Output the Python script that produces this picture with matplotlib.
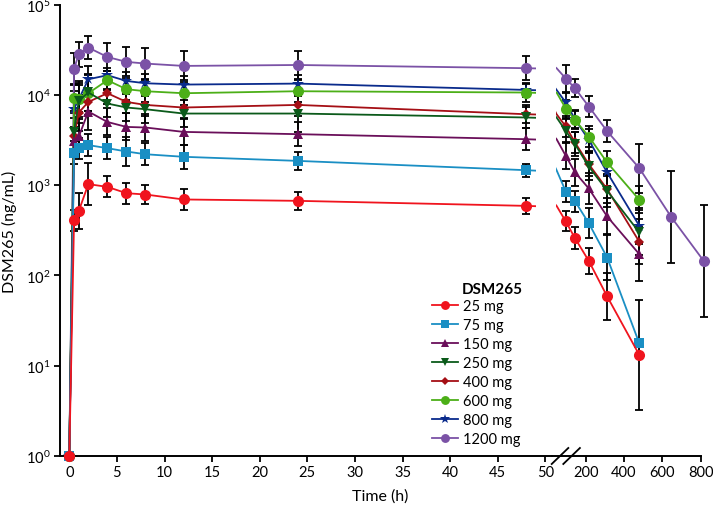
import numpy as np
import matplotlib
matplotlib.use('Agg')
import matplotlib.pyplot as plt
from matplotlib.patches import Rectangle
from matplotlib.lines import Line2D
from matplotlib.ticker import FixedLocator, NullLocator, LogFormatterSciNotation

plt.rcParams['font.family'] = ['Lato', 'DejaVu Sans']
plt.rcParams['mathtext.fontset'] = 'custom'
plt.rcParams['mathtext.rm'] = 'Lato'
plt.rcParams['font.size'] = 11

# ---------------- data ----------------
times = [0, 0.5, 1, 2, 4, 6, 8, 12, 24, 48, 96, 144, 216, 312, 480, 648, 816]

doses = ["25 mg", "75 mg", "150 mg", "250 mg", "400 mg", "600 mg", "800 mg", "1200 mg"]

mean_25 = [1, 410, 520, 1030, 960, 817, 790, 696, 672, 591, 397, 259, 145, 58.5, 13.1]
mean_75 = [1, 2310, 2560, 2790, 2580, 2370, 2210, 2070, 1865, 1470, 853, 666, 380, 158, 17.6]
mean_150 = [1, 3060, 3480, 6580, 5040, 4440, 4375, 3910, 3690, 3245, 2120, 1390, 922, 451, 172]
mean_250 = [1, 3950, 8700, 10700, 8070, 7290, 6980, 6250, 6250, 5650, 4010, 2855, 1616, 867, 300]
mean_400 = [1, 3480, 6410, 8410, 10500, 8410, 7790, 7290, 7790, 6140, 4490, 2990, 1714, 905, 236]
mean_600 = [1, 9310, 9100, 10500, 14630, 11640, 11050, 10500, 11050, 10690, 7100, 5310, 3475, 1790, 689]
mean_800 = [1, 7100, 9000, 15000, 16630, 14370, 13540, 13100, 13430, 11420, 8300, 5400, 3190, 1387, 355]
mean_1200 = [1, 19700, 28400, 33700, 26500, 23400, 22400, 21100, 21600, 19900, 15280, 11930, 7480, 3980, 1548, 440, 145]

# error bars: +/- log10 deviation (geometric SD)
lsd_25 = [0, 0.115, 0.20, 0.235, 0.116, 0.116, 0.107, 0.118, 0.10, 0.089, 0.111, 0.125, 0.144, 0.26, 0.606]
lsd_75 = [0, 0.13, 0.12, 0.12, 0.12, 0.16, 0.12, 0.133, 0.104, 0.074, 0.111, 0.115, 0.166, 0.25, 0]
lsd_150 = [0, 0.15, 0.15, 0.2, 0.15, 0.15, 0.15, 0.15, 0.13, 0.12, 0.15, 0.15, 0.17, 0.2, 0.3]
lsd_250 = [0, 0.2, 0.2, 0.2, 0.15, 0.15, 0.15, 0.15, 0.2, 0.12, 0.13, 0.13, 0.15, 0.18, 0.25]
lsd_400 = [0, 0.2, 0.2, 0.15, 0.12, 0.12, 0.12, 0.13, 0.12, 0.1, 0.12, 0.12, 0.13, 0.15, 0.25]
lsd_600 = [0, 0.15, 0.15, 0.2, 0.1, 0.12, 0.12, 0.13, 0.12, 0.1, 0.1, 0.1, 0.12, 0.13, 0.15]
lsd_800 = [0, 0.2, 0.2, 0.15, 0.08, 0.1, 0.1, 0.1, 0.1, 0.08, 0.1, 0.1, 0.12, 0.15, 0.2]
lsd_1200 = [0, 0.177, 0.14, 0.13, 0.15, 0.16, 0.17, 0.16, 0.15, 0.136, 0.15, 0.10, 0.12, 0.125, 0.27, 0.51, 0.62]

means = [mean_25, mean_75, mean_150, mean_250, mean_400, mean_600, mean_800, mean_1200]
lsds = [lsd_25, lsd_75, lsd_150, lsd_250, lsd_400, lsd_600, lsd_800, lsd_1200]

colors = ['#f0141e', '#1a8fc4', '#6a0f5a', '#0b5a1a', '#a50f15', '#4caf18', '#0a2b8c', '#7b52a6']
markers = ['o', 's', '^', 'v', 'D', 'o', '*', 'o']
msizes = [8, 7.5, 7.5, 7.5, 5.5, 8, 9, 8]

left_ticks = [0, 5, 10, 15, 20, 25, 30, 35, 40, 45, 50]
right_ticks = [200, 400, 600, 800]
y_ticks = [1, 10, 100, 1000, 10000, 100000]

# ---------------- layout ----------------
W, H = 713, 506
fig = plt.figure(figsize=(W / 100, H / 100), dpi=100)


def px(x0, y0, x1, y1):
    return [x0 / W, 1 - y1 / H, (x1 - x0) / W, (y1 - y0) / H]


Y_TOP, Y_BOT = 6, 456.7
XB = 552
axL = fig.add_axes(px(60, Y_TOP, XB, Y_BOT))
axR = fig.add_axes(px(XB, Y_TOP, 704, Y_BOT))

# left: 0 h at x=69.3 px, 9.52 px/h ; right: 200 h at 585.7 px, 0.1915 px/h
axL.set_xlim((60 - 69.3) / 9.52, (XB - 69.3) / 9.52)
axR.set_xlim(200 + (XB - 585.7) / 0.1915, 200 + (704 - 585.7) / 0.1915)
for ax in (axL, axR):
    ax.set_yscale('log')
    ax.set_ylim(1, 1e5)
    ax.set_facecolor('none')
    for s in ('top', 'right'):
        ax.spines[s].set_visible(False)
    ax.spines['bottom'].set_linewidth(1.4)
    ax.tick_params(axis='both', direction='out', length=4, width=1.3, labelsize=10.5, pad=3)

axL.spines['left'].set_linewidth(1.4)
axL.yaxis.set_major_locator(FixedLocator(y_ticks))
axL.yaxis.set_major_formatter(LogFormatterSciNotation())
axL.yaxis.set_minor_locator(NullLocator())
axL.set_xticks(left_ticks)
axR.spines['left'].set_visible(False)
axR.tick_params(axis='y', left=False, labelleft=False, which='both')
axR.yaxis.set_minor_locator(NullLocator())
axR.set_xticks(right_ticks)
axR.spines['bottom'].set_bounds(axR.get_xlim()[0], 800)

clipL = Rectangle((-5, 0.5), 54.0, 1e7, transform=axL.transData, visible=False)
clipR = Rectangle((44, 0.5), 2000, 1e7, transform=axR.transData, visible=False)
axL.add_patch(clipL)
axR.add_patch(clipR)

n = len(means)
for i in range(n - 1, -1, -1):
    m, d, c, mk, ms = means[i], lsds[i], colors[i], markers[i], msizes[i]
    z = 3 + (n - i) * 0.1
    t = np.array(times[:len(m)], dtype=float)
    m = np.array(m, dtype=float)
    d = np.array(d, dtype=float)
    for ax, clip, part in ((axL, clipL, t <= 50), (axR, clipR, t > 50)):
        sel = (d > 0) & part
        lo = m[sel] - m[sel] / 10 ** d[sel]
        hi = m[sel] * 10 ** d[sel] - m[sel]
        eb = ax.errorbar(t[sel], m[sel], yerr=[lo, hi], fmt='none', ecolor='black',
                         elinewidth=1.3, capsize=3.2, capthick=1.3, zorder=2)
        for art in list(eb.lines[1]) + list(eb.lines[2]):
            art.set_clip_path(clip)
        ln, = ax.plot(t, m, color=c, lw=1.3, zorder=z)
        ln.set_clip_path(clip)
        ax.plot(t[part], m[part], color=c, marker=mk, markersize=ms, lw=0,
                markeredgewidth=0, zorder=z, clip_on=False)

# break marks
for x0 in (551.7, 563.3):
    fig.add_artist(Line2D([x0 / W, (x0 + 16.6) / W], [1 - 465 / H, 1 - 449 / H],
                          color='black', lw=1.3))

# labels
fig.text(380 / W, 1 - 497 / H, 'Time (h)', ha='center', va='center', fontsize=11.5)
fig.text(9 / W, 1 - 232 / H, 'DSM265 (ng/mL)', ha='center', va='center',
         rotation=90, fontsize=11.5)

# legend
handles = [Line2D([], [], color=c, marker=mk, markersize=ms * 0.8, lw=1.3, markeredgewidth=0)
           for c, mk, ms in zip(colors, markers, msizes)]
fig.legend(handles, doses, loc='upper left', bbox_to_anchor=(432 / W, 1 - 300 / H),
           frameon=False, borderpad=0, handlelength=1.8, handletextpad=0.3,
           labelspacing=0.34, fontsize=10.5, borderaxespad=0)
fig.text(462 / W, 1 - 290 / H, 'DSM265', ha='left', va='center', fontsize=11,
         fontweight='bold')

fig.savefig('out.png', dpi=100)
